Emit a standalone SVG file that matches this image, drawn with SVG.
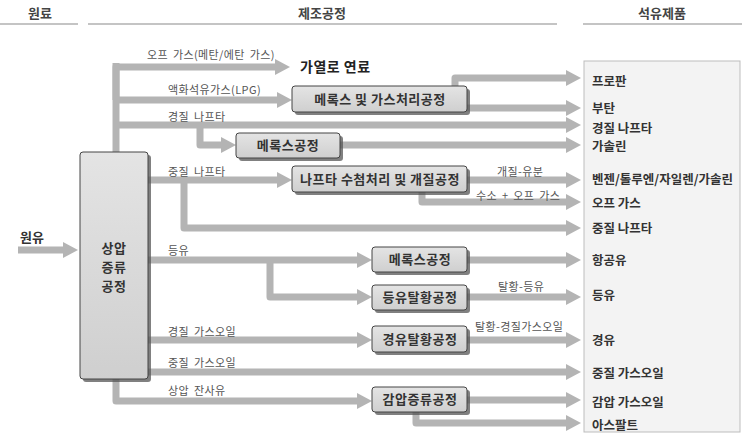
<svg xmlns="http://www.w3.org/2000/svg" width="743" height="441" viewBox="0 0 743 441">
<defs>
<linearGradient id="bg" x1="0" y1="0" x2="0" y2="1">
<stop offset="0" stop-color="#e4e4e4"/>
<stop offset="1" stop-color="#cfcfcf"/>
</linearGradient>
<marker id="ah" markerUnits="userSpaceOnUse" markerWidth="15" markerHeight="16" refX="0" refY="8" orient="auto" viewBox="0 0 15 16">
<path d="M0,0 L15,8 L0,16 z" fill="#b4b4b4"/>
</marker>
</defs>
<style>
.hd{font-family:"Noto Sans CJK KR","Noto Sans",sans-serif;font-size:13px;font-weight:bold;fill:#444;text-anchor:middle}
.hl{stroke:#8a8a8a;stroke-width:1.2}
.c{fill:none;stroke:#b4b4b4;stroke-width:7;stroke-linejoin:round}
.ca{fill:none;stroke:#b4b4b4;stroke-width:7;stroke-linejoin:round;marker-end:url(#ah)}
.box{fill:url(#bg);stroke:#444;stroke-width:1}
.sh{fill:#555;opacity:0.75}
.bt{font-family:"Noto Sans CJK KR","Noto Sans",sans-serif;font-size:13px;font-weight:bold;fill:#333;text-anchor:middle;letter-spacing:0.5px}
.fu{font-family:"Noto Sans CJK KR","Noto Sans",sans-serif;font-size:14px;font-weight:bold;fill:#222;letter-spacing:0.5px}
.lb{font-family:"Noto Sans CJK KR","Noto Sans",sans-serif;font-size:11px;fill:#555;letter-spacing:0.4px;word-spacing:2px}
.pt{font-family:"Noto Sans CJK KR","Noto Sans",sans-serif;font-size:12.5px;font-weight:bold;fill:#333}
.cr{font-family:"Noto Sans CJK KR","Noto Sans",sans-serif;font-size:13px;font-weight:bold;fill:#333}
</style>
<g id="headers">
<text class="hd" x="40" y="18">원료</text>
<text class="hd" x="322" y="18">제조공정</text>
<text class="hd" x="662" y="18">석유제품</text>
<line class="hl" x1="0" y1="24" x2="78" y2="24"/>
<line class="hl" x1="88" y1="24" x2="557" y2="24"/>
<line class="hl" x1="583" y1="24" x2="742" y2="24"/>
</g>
<g id="products">
<rect x="584" y="61" width="156" height="371" fill="#f3f3f3" stroke="#bdbdbd" stroke-width="1"/>
<text class="pt" x="592" y="86">프로판</text>
<text class="pt" x="592" y="113">부탄</text>
<text class="pt" x="592" y="133">경질 나프타</text>
<text class="pt" x="592" y="151">가솔린</text>
<text class="pt" x="592" y="184">벤젠/톨루엔/자일렌/가솔린</text>
<text class="pt" x="592" y="208">오프 가스</text>
<text class="pt" x="592" y="233">중질 나프타</text>
<text class="pt" x="592" y="265">항공유</text>
<text class="pt" x="592" y="300">등유</text>
<text class="pt" x="592" y="345">경유</text>
<text class="pt" x="592" y="378">중질 가스오일</text>
<text class="pt" x="592" y="407">감압 가스오일</text>
<text class="pt" x="592" y="430">아스팔트</text>
</g>
<g id="connectors">
<path class="ca" d="M18,250 H63"/>
<path class="c" d="M116,152 V63"/>
<path class="ca" d="M116,100 V67 H275"/>
<path class="ca" d="M116,100 H277"/>
<path class="ca" d="M116,125 H566"/>
<path class="ca" d="M200,125 V145 H221"/>
<path class="ca" d="M455,86 V78 H566"/>
<path class="ca" d="M467,108 H566"/>
<path class="ca" d="M340,145 H566"/>
<path class="ca" d="M148,180 H277"/>
<path class="ca" d="M184,180 V228 H566"/>
<path class="ca" d="M467,180 H566"/>
<path class="ca" d="M422,192 V202 H566"/>
<path class="ca" d="M148,260 H357"/>
<path class="ca" d="M270,260 V297 H357"/>
<path class="ca" d="M467,260 H566"/>
<path class="ca" d="M467,297 H566"/>
<path class="ca" d="M148,340 H357"/>
<path class="ca" d="M467,340 H566"/>
<path class="ca" d="M148,372 H566"/>
<path class="ca" d="M116,379 V401 H357"/>
<path class="ca" d="M467,400 H566"/>
<path class="ca" d="M416,412 V423 H566"/>
</g>
<g id="labels">
<text class="lb" x="147" y="59">오프 가스(메탄/에탄 가스)</text>
<text class="lb" x="168" y="94">액화석유가스(LPG)</text>
<text class="lb" x="168" y="121">경질 나프타</text>
<text class="lb" x="168" y="176">중질 나프타</text>
<text class="lb" x="168" y="255">등유</text>
<text class="lb" x="168" y="336">경질 가스오일</text>
<text class="lb" x="168" y="367">중질 가스오일</text>
<text class="lb" x="168" y="395">상압 잔사유</text>
<text class="lb" x="497" y="176">개질-유분</text>
<text class="lb" x="476" y="200">수소 + 오프 가스</text>
<text class="lb" x="498" y="291">탈황-등유</text>
<text class="lb" x="475" y="331">탈황-경질가스오일</text>
</g>
<g id="crude">
<text class="cr" x="20" y="242">원유</text>
</g>
<g id="fuel">
<text class="fu" x="300" y="72">가열로 연료</text>
</g>
<g id="atm-distillation">
<rect class="sh" x="83" y="155" width="68" height="227" rx="3"/>
<rect class="box" x="80" y="152" width="68" height="227" rx="3"/>
<text class="bt" x="114" y="253">상압</text>
<text class="bt" x="114" y="272">증류</text>
<text class="bt" x="114" y="291">공정</text>
</g>
<g id="merox-gas">
<rect class="sh" x="295" y="89" width="175" height="26" rx="3"/>
<rect class="box" x="292" y="86" width="175" height="26" rx="3"/>
<text class="bt" x="380" y="104">메록스 및 가스처리공정</text>
</g>
<g id="merox-1">
<rect class="sh" x="239" y="136" width="104" height="25" rx="3"/>
<rect class="box" x="236" y="133" width="104" height="25" rx="3"/>
<text class="bt" x="288" y="150">메록스공정</text>
</g>
<g id="naphtha-reform">
<rect class="sh" x="295" y="169" width="175" height="26" rx="3"/>
<rect class="box" x="292" y="166" width="175" height="26" rx="3"/>
<text class="bt" x="380" y="184">나프타 수첨처리 및 개질공정</text>
</g>
<g id="merox-2">
<rect class="sh" x="375" y="250" width="95" height="25" rx="3"/>
<rect class="box" x="372" y="247" width="95" height="25" rx="3"/>
<text class="bt" x="420" y="264">메록스공정</text>
</g>
<g id="kero-hds">
<rect class="sh" x="375" y="288" width="95" height="25" rx="3"/>
<rect class="box" x="372" y="285" width="95" height="25" rx="3"/>
<text class="bt" x="420" y="302">등유탈황공정</text>
</g>
<g id="diesel-hds">
<rect class="sh" x="375" y="329" width="95" height="26" rx="3"/>
<rect class="box" x="372" y="326" width="95" height="26" rx="3"/>
<text class="bt" x="420" y="344">경유탈황공정</text>
</g>
<g id="vacuum">
<rect class="sh" x="375" y="390" width="95" height="25" rx="3"/>
<rect class="box" x="372" y="387" width="95" height="25" rx="3"/>
<text class="bt" x="420" y="404">감압증류공정</text>
</g>
</svg>
